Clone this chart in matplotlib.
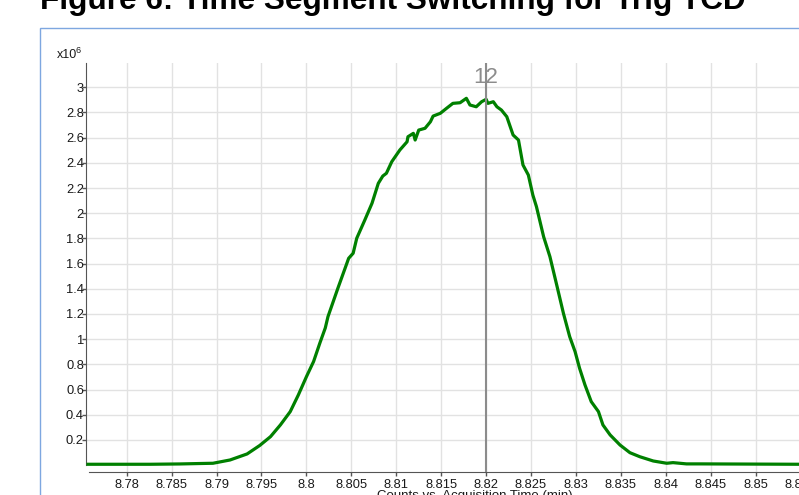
import matplotlib
matplotlib.use("Agg")
import matplotlib.pyplot as plt
from matplotlib.patches import Rectangle

plt.rcParams['font.family'] = ['Liberation Sans', 'DejaVu Sans']

# ---- data ----
title = "Figure 6: Time Segment Switching for Trig TCD"
xlabel = "Counts vs. Acquisition Time (min)"
marker_time = 8.82
marker_label = "12"

times = [8.7757, 8.7826, 8.7859, 8.7882, 8.7896, 8.7915, 8.7934, 8.7948, 8.7960,
         8.7971, 8.7982, 8.7991, 8.8000, 8.8008, 8.8015, 8.8021, 8.8024, 8.8035,
         8.8045, 8.8047, 8.8052, 8.8056, 8.8065, 8.8073, 8.8080, 8.8085, 8.8089,
         8.8095, 8.8104, 8.8112, 8.8113, 8.8119, 8.8121, 8.8125, 8.8132, 8.8138,
         8.8141, 8.8149, 8.8156, 8.8163, 8.8171, 8.8178, 8.8182, 8.8189, 8.8195,
         8.8200, 8.8202, 8.8208, 8.8212, 8.8217, 8.8223, 8.8230, 8.8236, 8.8241,
         8.8247, 8.8252, 8.8256, 8.8264, 8.8271, 8.8279, 8.8286, 8.8291, 8.8293,
         8.8299, 8.8304, 8.8310, 8.8317, 8.8325, 8.8330, 8.8338, 8.8349, 8.8360,
         8.8371, 8.8386, 8.8401, 8.8408, 8.8423, 8.8438, 8.8549, 8.8605]
counts = [0.007, 0.007, 0.0095, 0.013, 0.015, 0.041, 0.089, 0.156, 0.226,
          0.319, 0.425, 0.557, 0.702, 0.823, 0.970, 1.089, 1.179, 1.404,
          1.602, 1.642, 1.682, 1.801, 1.946, 2.079, 2.237, 2.295, 2.317,
          2.409, 2.502, 2.567, 2.607, 2.634, 2.581, 2.660, 2.674, 2.726,
          2.771, 2.793, 2.833, 2.872, 2.877, 2.912, 2.859, 2.845, 2.885,
          2.904, 2.872, 2.885, 2.845, 2.819, 2.766, 2.621, 2.581, 2.383,
          2.303, 2.144, 2.052, 1.813, 1.655, 1.417, 1.206, 1.073, 1.020,
          0.901, 0.769, 0.637, 0.504, 0.425, 0.319, 0.240, 0.160, 0.099,
          0.067, 0.033, 0.015, 0.020, 0.010, 0.010, 0.007, 0.007]

xticks = [8.78, 8.785, 8.79, 8.795, 8.8, 8.805, 8.81, 8.815, 8.82, 8.825,
          8.83, 8.835, 8.84, 8.845, 8.85, 8.855, 8.86]
xtick_labels = ["8.78", "8.785", "8.79", "8.795", "8.8", "8.805", "8.81", "8.815",
                "8.82", "8.825", "8.83", "8.835", "8.84", "8.845", "8.85", "8.855", "8.86"]
yticks = [0.2, 0.4, 0.6, 0.8, 1.0, 1.2, 1.4, 1.6, 1.8, 2.0, 2.2, 2.4, 2.6, 2.8, 3.0]
ytick_labels = ["0.2", "0.4", "0.6", "0.8", "1", "1.2", "1.4", "1.6", "1.8", "2",
                "2.2", "2.4", "2.6", "2.8", "3"]

W, H = 799, 495
fig = plt.figure(figsize=(W / 100, H / 100), dpi=100)

# outer blue frame
fig.patches.append(Rectangle((40 / W, -0.1), 1.2, 1 - 28 / H + 0.1,
                             transform=fig.transFigure, fill=False,
                             edgecolor='#7ea7e0', linewidth=1.0))

# title (partially cut off at top)
fig.text(40 / W, 1 - 9 / H, title, fontsize=22.7, fontweight='bold',
         ha='left', va='baseline', color='black')

left_px, right_px, top_px, bot_px = 86, 846, 63.3, 471.7
ax = fig.add_axes([left_px / W, 1 - bot_px / H, (right_px - left_px) / W,
                   (bot_px - top_px) / H])

ax.plot(times, counts, color='#008000', linewidth=2.3, zorder=3)

ax.set_xlim(8.77547, 8.86005)
ax.set_ylim(-0.052, 3.19)

ax.set_xticks(xticks)
ax.set_xticklabels(xtick_labels)
ax.set_yticks(yticks)
ax.set_yticklabels(ytick_labels)

ax.grid(True, color='#e2e2e2', linewidth=1.0, zorder=0)
ax.set_axisbelow(True)

for s in ['top', 'right']:
    ax.spines[s].set_visible(False)
ax.spines['left'].set_color('#555555')
ax.spines['bottom'].set_color('#555555')
ax.spines['left'].set_bounds(0.0, 3.19)
ax.spines['bottom'].set_bounds(8.7758, 8.86005)

ax.tick_params(axis='both', colors='#555555', labelcolor='#1a1a1a',
               labelsize=9.3, length=3, width=1)
ax.tick_params(axis='y', pad=-1.5)
ax.tick_params(axis='x', pad=2)

# marker line with label
ax.axvline(marker_time, color='#8c8c8c', linewidth=1.5, zorder=4)
ax.text(marker_time, 3.08, marker_label, color='#8c8c8c', fontsize=16,
        ha='center', va='center', zorder=5)

# exponent label
fig.text(57 / W, 1 - 58 / H, "x10", fontsize=9, ha='left', va='baseline',
         color='#1a1a1a')
fig.text(75 / W, 1 - 53 / H, "6", fontsize=6.5, ha='left', va='baseline',
         color='#1a1a1a')

# x axis label (cut off at bottom)
fig.text(475 / W, 1 - 490 / H, xlabel, fontsize=9.5, ha='center', va='top',
         color='#1a1a1a')

fig.savefig("out.png", dpi=100)
